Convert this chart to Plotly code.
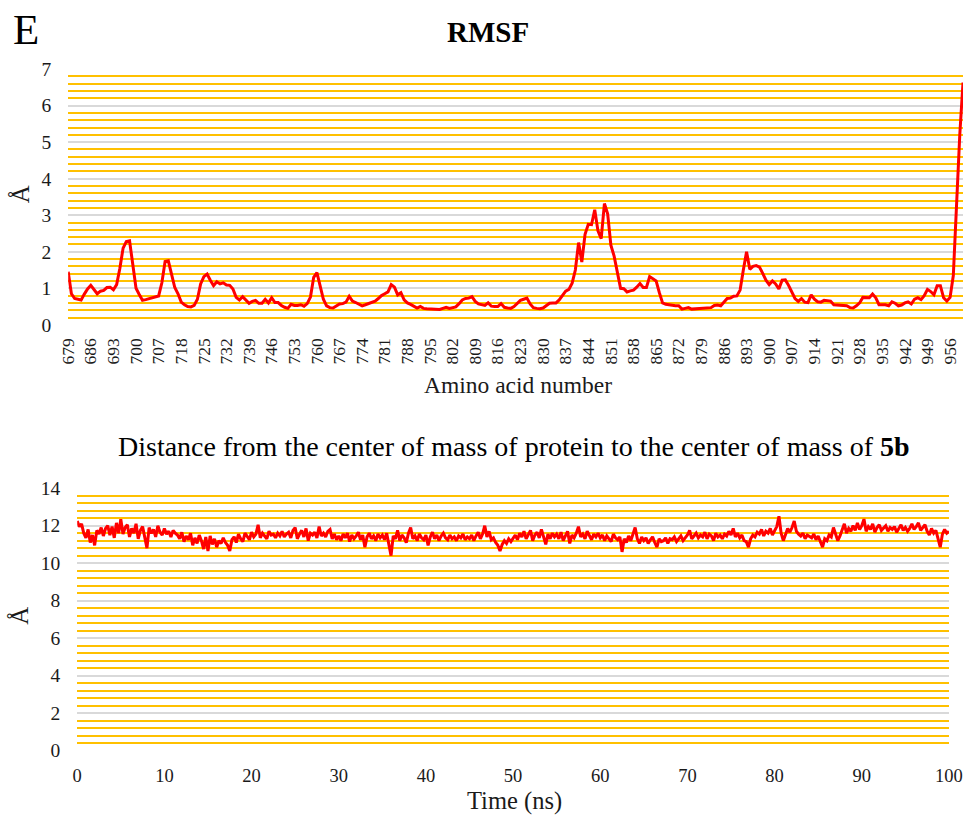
import plotly.graph_objects as go

# ---------------- data ----------------
# residue numbers (gap 711-714 missing in the structure)
residues = list(range(679, 711)) + list(range(715, 961))
residue_labels = [str(r) for r in residues]

rmsf = [
    1.45, 0.85, 0.72, 0.69, 0.68, 0.84, 0.98, 1.08, 0.96, 0.85,
    0.92, 0.94, 1.02, 1.03, 0.96, 1.10, 1.55, 2.10, 2.28, 2.30,
    1.65, 1.00, 0.83, 0.67, 0.69, 0.71, 0.74, 0.77, 0.79, 1.15,
    1.73, 1.75, 1.35, 1.02, 0.85, 0.62, 0.55, 0.50, 0.49, 0.53,
    0.70, 1.12, 1.32, 1.39, 1.22, 1.07, 1.18, 1.12, 1.15, 1.09,
    1.08, 0.98, 0.75, 0.68, 0.77, 0.68, 0.59, 0.64, 0.67, 0.59,
    0.59, 0.70, 0.60, 0.74, 0.61, 0.61, 0.53, 0.48, 0.45, 0.56,
    0.53, 0.53, 0.55, 0.51, 0.58, 0.76, 1.30, 1.43, 1.05, 0.70,
    0.52, 0.47, 0.46, 0.51, 0.57, 0.58, 0.62, 0.78, 0.65, 0.61,
    0.56, 0.52, 0.55, 0.58, 0.60, 0.65, 0.72, 0.80, 0.85, 0.90,
    1.10, 1.03, 0.82, 0.88, 0.68, 0.60, 0.56, 0.50, 0.46, 0.50,
    0.45, 0.44, 0.44, 0.44, 0.43, 0.42, 0.45, 0.48, 0.45, 0.47,
    0.49, 0.58, 0.68, 0.72, 0.73, 0.77, 0.64, 0.57, 0.54, 0.53,
    0.60, 0.51, 0.50, 0.50, 0.58, 0.48, 0.46, 0.45, 0.50, 0.58,
    0.67, 0.70, 0.73, 0.57, 0.47, 0.45, 0.44, 0.46, 0.52, 0.59,
    0.60, 0.60, 0.68, 0.80, 0.92, 0.97, 1.14, 1.50, 2.25, 1.72,
    2.48, 2.75, 2.74, 3.15, 2.57, 2.36, 3.32, 3.04, 2.18, 1.88,
    1.48, 1.00, 0.99, 0.90, 0.93, 0.95, 1.03, 1.13, 1.02, 1.02,
    1.32, 1.27, 1.20, 0.88, 0.60, 0.56, 0.54, 0.52, 0.52, 0.52,
    0.43, 0.45, 0.47, 0.43, 0.44, 0.45, 0.46, 0.47, 0.47, 0.47,
    0.53, 0.54, 0.52, 0.62, 0.72, 0.73, 0.78, 0.79, 0.95, 1.50,
    2.00, 1.52, 1.60, 1.62, 1.58, 1.41, 1.22, 1.10, 1.20, 1.12,
    0.98, 1.22, 1.23, 1.08, 0.88, 0.72, 0.64, 0.72, 0.62, 0.61,
    0.82, 0.70, 0.63, 0.62, 0.67, 0.66, 0.65, 0.55, 0.54, 0.53,
    0.53, 0.52, 0.47, 0.46, 0.52, 0.60, 0.75, 0.75, 0.74, 0.84,
    0.74, 0.55, 0.56, 0.55, 0.52, 0.63, 0.59, 0.52, 0.54, 0.60,
    0.63, 0.57, 0.70, 0.74, 0.69, 0.80, 0.97, 0.91, 0.82, 1.07,
    1.07, 0.74, 0.65, 0.75, 1.35, 3.30, 5.20, 6.63,
]

tick_residues = [residue_labels[i] for i in range(0, len(residue_labels), 7)]

# distance of centres of mass, sampled every 0.25 ns
distance = [
    12.25, 11.95, 12.1, 11.6, 11.35, 11.8, 11.1, 11.5, 10.95, 11.75, 11.55, 11.9, 11.45, 11.85, 12.0, 11.5, 11.95, 11.35, 12.15, 11.6,
    12.35, 11.55, 11.9, 12.05, 11.4, 11.85, 11.6, 12.1, 11.3, 11.75, 11.95, 11.45, 10.8, 11.9, 11.6, 11.8, 11.4, 12.0, 11.65, 11.5,
    11.85, 11.55, 11.7, 11.4, 11.75, 11.6, 11.5, 11.3, 11.65, 11.15, 11.45, 11.25, 11.6, 10.95, 11.35, 11.05, 11.5, 11.2, 10.75, 11.4,
    10.65, 11.45, 11.0, 11.3, 10.85, 11.2, 11.05, 11.35, 11.1, 10.95, 10.65, 11.25, 11.4, 11.1, 11.55, 11.3, 11.15, 11.6, 11.4, 11.25,
    11.65, 11.4, 11.55, 12.05, 11.35, 11.6, 11.45, 11.3, 11.7, 11.5, 11.55, 11.35, 11.6, 11.45, 11.7, 11.4, 11.55, 11.65, 11.35, 11.75,
    11.9, 11.3, 11.55, 11.75, 11.4, 11.85, 11.2, 11.6, 11.5, 11.65, 11.35, 11.95, 11.45, 11.6, 11.4, 11.7, 11.8, 11.3, 11.55, 11.25,
    11.45, 11.2, 11.55, 11.35, 11.6, 11.15, 11.5, 11.3, 11.45, 11.65, 11.25, 11.5, 10.85, 11.4, 11.6, 11.3, 11.45, 11.2, 11.55, 11.35,
    11.5, 11.25, 11.6, 11.05, 10.4, 11.45, 11.3, 11.75, 11.2, 11.5, 11.35, 11.1, 11.6, 11.9, 11.3, 11.45, 11.2, 11.55, 11.35, 11.25,
    11.5, 10.95, 11.4, 11.65, 11.3, 11.5, 11.2, 11.45, 11.6, 11.35, 11.25, 11.5, 11.3, 11.4, 11.2, 11.45, 11.35, 11.55, 11.25, 11.4,
    11.3, 11.5, 11.2, 11.45, 11.65, 11.3, 11.55, 12.0, 11.4, 11.7, 11.25, 11.35, 11.1, 10.95, 10.65, 11.0, 11.2, 11.05, 11.3, 11.15,
    11.35, 11.5, 11.25, 11.6, 11.4, 11.7, 11.3, 11.55, 11.75, 11.2, 11.5, 11.65, 11.35, 11.8, 11.45, 11.0, 11.55, 11.3, 11.6, 11.4,
    11.55, 11.3, 11.65, 11.2, 11.45, 11.7, 11.05, 11.5, 11.35, 11.6, 11.95, 11.4, 11.55, 11.3, 11.7, 11.45, 11.25, 11.55, 11.4, 11.6,
    11.35, 11.5, 11.2, 11.45, 11.3, 11.15, 11.55, 11.35, 11.25, 11.4, 10.6, 11.3, 11.1, 11.45, 11.2, 11.6, 11.9, 11.3, 11.05, 11.4,
    11.2, 11.35, 11.05, 11.25, 11.4, 11.1, 10.85, 11.3, 11.15, 11.2, 11.35, 11.05, 11.3, 11.25, 11.4, 11.15, 11.3, 11.45, 11.2, 11.35,
    11.5, 11.75, 11.3, 11.45, 11.6, 11.35, 11.5, 11.4, 11.65, 11.3, 11.55, 11.45, 11.2, 11.6, 11.4, 11.5, 11.3, 11.55, 11.45, 11.7,
    11.5, 11.85, 11.4, 11.6, 11.35, 11.5, 11.2, 11.15, 10.85, 11.3, 11.5, 11.4, 11.65, 11.55, 11.8, 11.45, 11.7, 11.6, 11.85, 11.5,
    11.75, 11.95, 12.5, 11.6, 11.2, 11.5, 11.85, 11.65, 11.9, 12.25, 11.7, 11.55, 11.45, 11.6, 11.3, 11.5, 11.4, 11.35, 11.55, 11.25,
    11.45, 11.15, 10.85, 11.3, 11.2, 11.5, 11.4, 11.9, 11.55, 11.2, 11.45, 11.75, 12.1, 11.6, 11.85, 11.7, 12.0, 11.75, 12.15, 11.8,
    12.0, 12.35, 11.7, 11.95, 11.8, 12.1, 11.65, 11.9, 12.05, 11.75, 11.85, 12.0, 11.7, 11.9, 11.8, 11.95, 11.65, 11.85, 12.05, 11.75,
    11.9, 11.7, 11.85, 12.1, 11.8, 11.95, 12.15, 11.75, 11.9, 12.05, 11.7, 11.5, 11.85, 11.6, 11.75, 11.3, 10.85, 11.55, 11.8, 11.6,
    11.7,
]
time_ns = [i * 0.25 for i in range(len(distance))]

time_ticks = [0, 10, 20, 30, 40, 50, 60, 70, 80, 90, 100]

# ---------------- styling ----------------
W, H = 963, 816
# measured drawing area of the "paper" inside the page
PL, PR, PT, PB = 10, 960, 9, 807
FONT = "Liberation Serif"
MAJOR = "#d9d9d9"
MINOR = "#ffc000"
RED = "#ff0000"
TXT = "#1a1a1a"


def fx(x):
    return (x - PL) / (PR - PL)


def fy(y):
    return 1 - (y - PT) / (PB - PT)


def px(x0, x1):
    return [max(0.0, fx(x0)), min(1.0, fx(x1))]


def py(ytop, ybot):
    return [max(0.0, fy(ybot)), min(1.0, fy(ytop))]


fig = go.Figure()

fig.add_trace(go.Scatter(x=residue_labels, y=rmsf, mode="lines",
                         line=dict(color=RED, width=3), xaxis="x", yaxis="y",
                         showlegend=False))
fig.add_trace(go.Scatter(x=time_ns, y=distance, mode="lines",
                         line=dict(color=RED, width=3), xaxis="x2", yaxis="y2",
                         showlegend=False))

common_y = dict(showline=False, zeroline=False, ticks="", showgrid=True,
                gridcolor=MAJOR, gridwidth=1.5,
                tickfont=dict(family=FONT, size=19.5, color=TXT),
                ticklabelstandoff=16)

fig.update_layout(
    width=W, height=H,
    margin=dict(l=0, r=0, t=0, b=0),
    paper_bgcolor="white", plot_bgcolor="white",
    font=dict(family=FONT, color=TXT),
    xaxis=dict(domain=px(68, 961), anchor="y", type="category",
               range=[0, len(residue_labels) - 1],
               tickmode="array", tickvals=tick_residues, ticktext=tick_residues,
               tickangle=-90, showgrid=False, zeroline=False, showline=False, ticks="",
               tickfont=dict(family=FONT, size=17.5, color=TXT),
               ticklabelstandoff=9, ticklabeloverflow="allow"),
    yaxis=dict(domain=py(68.3, 325), anchor="x", range=[0, 7], dtick=1, tick0=0,
               minor=dict(dtick=0.2, tick0=0, showgrid=True, gridcolor=MINOR, gridwidth=2),
               **common_y),
    xaxis2=dict(domain=px(77, 946), anchor="y2", range=[0, 100],
                tickmode="array", tickvals=time_ticks,
                showgrid=False, zeroline=False, showline=False, ticks="",
                tickfont=dict(family=FONT, size=18.5, color=TXT),
                ticklabelstandoff=12, ticklabeloverflow="allow",
                automargin=False),
    yaxis2=dict(domain=py(489, 752.3), anchor="x2", range=[0, 14], dtick=2, tick0=0,
                minor=dict(dtick=0.4, tick0=0, showgrid=True, gridcolor=MINOR, gridwidth=2),
                **common_y),
)

annots = [
    dict(text="E", x=fx(11), y=fy(29), xanchor="left", yanchor="middle",
         font=dict(family=FONT, size=43, color="black")),
    dict(text="<b>RMSF</b>", x=fx(486), y=fy(31), xanchor="center", yanchor="middle",
         font=dict(family=FONT, size=29, color="black")),
    dict(text="Å", x=fx(20), y=fy(194), xanchor="center", yanchor="middle", textangle=-90,
         font=dict(family=FONT, size=25, color=TXT)),
    dict(text="Amino acid number", x=fx(516), y=fy(385), xanchor="center", yanchor="middle",
         font=dict(family=FONT, size=23.5, color=TXT)),
    dict(text="Distance from the center of mass of protein to the center of mass of <b>5b</b>",
         x=fx(512), y=fy(447), xanchor="center", yanchor="middle",
         font=dict(family=FONT, size=28, color="black")),
    dict(text="Å", x=fx(20), y=fy(617), xanchor="center", yanchor="middle", textangle=-90,
         font=dict(family=FONT, size=25, color=TXT)),
    dict(text="Time (ns)", x=fx(513), y=fy(803), xanchor="center", yanchor="middle",
         font=dict(family=FONT, size=24.5, color=TXT)),
]
for a in annots:
    a.update(xref="paper", yref="paper", showarrow=False)
fig.update_layout(annotations=annots)

fig.write_html("out.html")
